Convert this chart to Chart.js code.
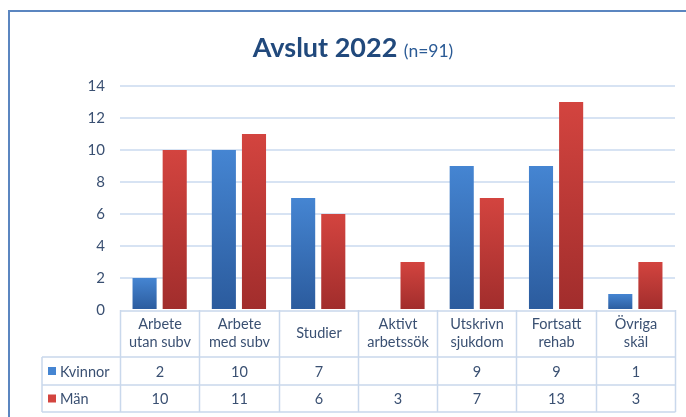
<!DOCTYPE html>
<html>
<head>
<meta charset="utf-8">
<script src="https://cdn.jsdelivr.net/npm/chart.js@4"></script>
<style>
  html, body { margin: 0; padding: 0; background: #fff; }
  #wrap { position: relative; width: 686px; height: 417px; }
</style>
</head>
<body>
<div id="wrap"><canvas id="avslutChart" width="686" height="417"></canvas></div>
<script>
// --- DATA ---
const categories = [
    ["Arbete", "utan subv"],
    ["Arbete", "med subv"],
    ["Studier"],
    ["Aktivt", "arbetssök"],
    ["Utskrivn", "sjukdom"],
    ["Fortsatt", "rehab"],
    ["Övriga", "skäl"]
];
const kvinnor = [2, 10, 7, null, 9, 9, 1];
const man = [10, 11, 6, 3, 7, 13, 3];
const seriesNames = ["Kvinnor", "Män"];
const yTicks = [0, 2, 4, 6, 8, 10, 12, 14];

const FONT = "Lato, 'Open Sans', sans-serif";
const TEXT = '#3a5072';
const LINE = '#c9d8ec';
const BLUE = ['#4585d2', '#2b5b9d'];
const RED = ['#d3443f', '#a12d2c'];

// gradient per bar, from its top to the zero line
function barGradient(colors) {
    return (c) => {
        const { chart, parsed } = c;
        const y = chart.scales.y;
        if (!parsed || !chart.chartArea || parsed.y == null) return colors[0];
        const top = y.getPixelForValue(parsed.y);
        const bot = y.getPixelForValue(0);
        const g = chart.ctx.createLinearGradient(0, top, 0, bot);
        g.addColorStop(0, colors[0]);
        g.addColorStop(1, colors[1]);
        return g;
    };
}

// --- TITLE + FRAME + DATA TABLE ---
const decor = {
    id: 'decor',
    beforeDraw(chart) {
        const ctx = chart.ctx;
        ctx.save();
        ctx.strokeStyle = '#5b86c0';
        ctx.lineWidth = 2;
        ctx.beginPath();
        ctx.moveTo(9, 417);
        ctx.lineTo(9, 11);
        ctx.lineTo(686, 11);
        ctx.stroke();
        ctx.restore();
    },
    afterDraw(chart) {
        const ctx = chart.ctx;
        const x = chart.scales.x;
        const area = chart.chartArea;
        ctx.save();

        // title
        ctx.textBaseline = 'alphabetic';
        const t1 = "Avslut 2022 ";
        ctx.font = "bold 27px " + FONT;
        const w1 = ctx.measureText(t1).width;
        ctx.font = "17.5px " + FONT;
        const w2 = ctx.measureText("(n=91)").width;
        const sx = 353 - (w1 + w2) / 2;
        ctx.fillStyle = '#21497c';
        ctx.font = "bold 27px " + FONT;
        ctx.fillText(t1, sx, 57);
        ctx.font = "17.5px " + FONT;
        ctx.fillStyle = '#2a5a95';
        ctx.fillText("(n=91)", sx + w1, 57);

        // table
        const rowTop = area.bottom;
        const r1 = 357, r2 = 385, r3 = 412;
        const labelLeft = 42;
        const n = categories.length;
        const step = x.getPixelForValue(1) - x.getPixelForValue(0);
        const edges = [];
        for (let i = 0; i <= n; i++) {
            edges.push(Math.round(x.getPixelForValue(0) - step / 2 + i * step) + 0.5);
        }
        ctx.strokeStyle = LINE;
        ctx.lineWidth = 1.5;
        ctx.beginPath();
        ctx.moveTo(edges[0], rowTop + 1); ctx.lineTo(edges[n], rowTop + 1);
        [r1, r2, r3].forEach(r => { ctx.moveTo(labelLeft, r); ctx.lineTo(edges[n], r); });
        edges.forEach(e => { ctx.moveTo(e, rowTop); ctx.lineTo(e, r3); });
        ctx.moveTo(labelLeft, r1); ctx.lineTo(labelLeft, r3);
        ctx.stroke();

        ctx.fillStyle = TEXT;
        ctx.font = "14.5px " + FONT;
        ctx.textAlign = 'center';
        ctx.textBaseline = 'middle';
        categories.forEach((lines, i) => {
            const cx = (edges[i] + edges[i + 1]) / 2;
            const mid = (rowTop + r1) / 2;
            lines.forEach((ln, j) => {
                ctx.fillText(ln, cx, mid + (j - (lines.length - 1) / 2) * 18);
            });
            if (kvinnor[i] != null) ctx.fillText(String(kvinnor[i]), cx, (r1 + r2) / 2 + 1);
            if (man[i] != null) ctx.fillText(String(man[i]), cx, (r2 + r3) / 2 + 1);
        });

        // row labels with legend keys
        ctx.textAlign = 'left';
        [[BLUE[0], seriesNames[0], (r1 + r2) / 2], [RED[0], seriesNames[1], (r2 + r3) / 2]].forEach(([col, name, cy]) => {
            ctx.fillStyle = col;
            ctx.fillRect(48, cy - 4, 8, 8);
            ctx.fillStyle = TEXT;
            ctx.fillText(name, 60, cy + 1);
        });
        ctx.restore();
    }
};

// --- CHART ---
new Chart(document.getElementById('avslutChart'), {
    type: 'bar',
    data: {
        labels: categories.map(c => c.join(' ')),
        datasets: [
            { label: seriesNames[0], data: kvinnor, backgroundColor: barGradient(BLUE) },
            { label: seriesNames[1], data: man, backgroundColor: barGradient(RED) }
        ]
    },
    options: {
        responsive: false,
        animation: false,
        categoryPercentage: 0.76,
        barPercentage: 0.8,
        layout: { padding: { top: 86, right: 11, bottom: 107, left: 0 } },
        plugins: { legend: { display: false }, tooltip: { enabled: false }, title: { display: false } },
        scales: {
            x: { display: false },
            y: {
                min: 0, max: 14,
                afterFit: (s) => { s.width = 120; },
                afterBuildTicks: (s) => { s.ticks = yTicks.map(v => ({ value: v })); },
                border: { display: false },
                grid: {
                    drawTicks: false,
                    lineWidth: 2,
                    color: (c) => c.tick && c.tick.value === 0 ? 'rgba(0,0,0,0)' : '#d7e3f3'
                },
                ticks: { padding: 15, color: TEXT, font: { family: FONT, size: 15 } }
            }
        }
    },
    plugins: [decor]
});
</script>
</body>
</html>
